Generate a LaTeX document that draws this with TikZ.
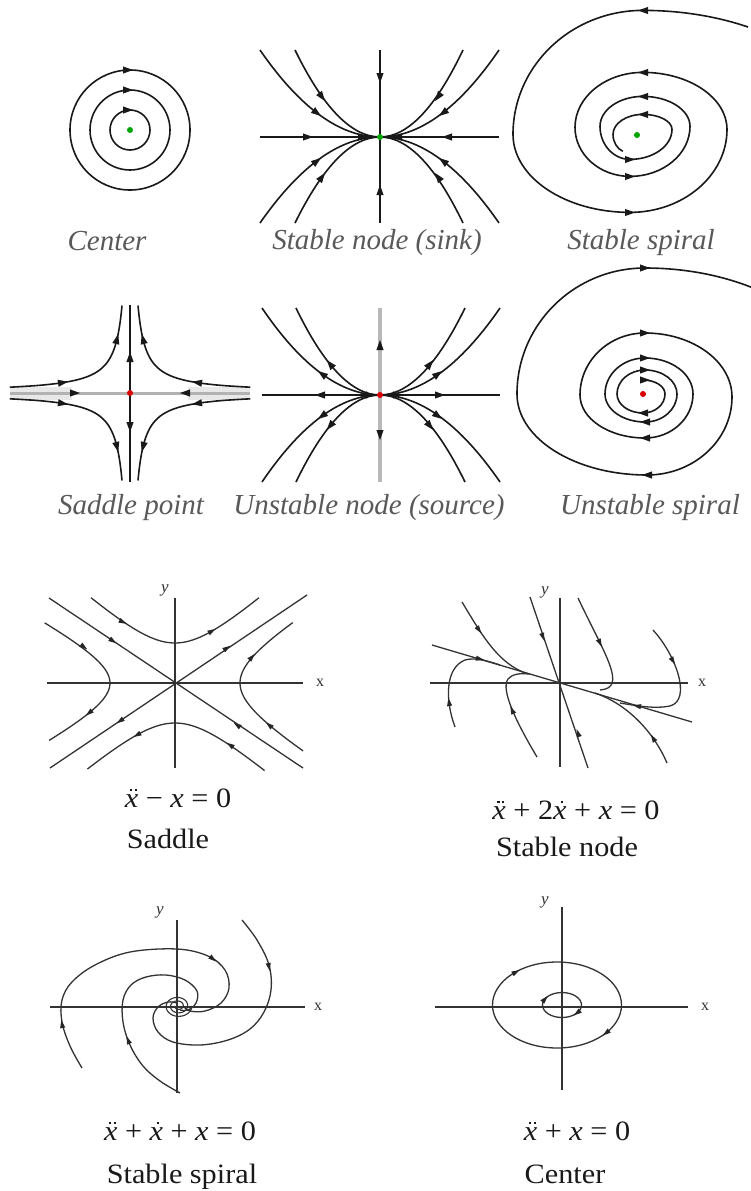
\documentclass[tikz,border=0pt]{standalone}
\usepackage{fontspec}
\setmainfont{Liberation Serif}
\newfontfamily\lowfont[FakeStretch=1.08]{Liberation Serif}
\newcommand{\ah}[3]{\fill[black!90,shift={(#1,#2)},rotate=#3] (5,0) -- (-5,3.6) -- (-5,-3.6) -- cycle;}
\newcommand{\as}[3]{\fill[black!85,shift={(#1,#2)},rotate=#3] (4,0) -- (-4,2.6) -- (-4,-2.6) -- cycle;}
\newcommand{\parab}[4]{\draw[traj] (#1,#2) .. controls ({#1+(#3)/3},#2) and ({#1+2*(#3)/3},{#2+(#4)/3}) .. ({#1+(#3)},{#2+(#4)});}
\newcommand{\xx}{\hbox{\itshape x}}
\newcommand{\ddx}{\hbox{\rlap{\kern5pt\raisebox{16pt}{\rule{2.2pt}{2.2pt}\kern2.6pt\rule{2.2pt}{2.2pt}}}\itshape x}}
\newcommand{\dx}{\hbox{\rlap{\kern7.5pt\raisebox{16pt}{\rule{2.2pt}{2.2pt}}}\itshape x}}
\tikzset{
  traj/.style={line width=1.6pt, black!90},
  lowtraj/.style={line width=1.3pt, black!80},
  toplab/.style={font=\fontsize{29}{32}\selectfont\itshape, text=black!65, anchor=base},
  botlab/.style={font=\lowfont\fontsize{28}{30}\selectfont, text=black!90, anchor=base},
  axlab/.style={font=\fontsize{16}{18}\selectfont, text=black!80},
}
\begin{document}
\begin{tikzpicture}[x=1pt,y=-1pt]
\useasboundingbox[fill=white] (0,0) rectangle (751,1191);

% ---------- Panel 1: Center ----------
\draw[traj] (130,130) circle (60) (130,130) circle (40) (130,130) circle (20);
\ah{128}{70}{0}\ah{128}{90}{0}\ah{128}{110}{0}
\fill[green!65!black] (130,130) circle (3);
\node[toplab] (l1) at (107,250) {Center};

% ---------- Panel 2: Stable node (sink) ----------
\draw[traj] (380,50) -- (380,223);
\draw[traj] (260,137) -- (499,137);
\parab{380}{137}{-120}{-87}\parab{380}{137}{-85}{-87}
\parab{380}{137}{119}{-87}\parab{380}{137}{83}{-87}
\parab{380}{137}{-120}{86}\parab{380}{137}{-85}{86}
\parab{380}{137}{119}{86}\parab{380}{137}{83}{86}
\ah{322}{97}{-54}\ah{317}{113}{-37}
\ah{438}{97}{-126}\ah{443}{113}{-143}
\ah{322}{177}{54}\ah{317}{161}{37}
\ah{438}{177}{126}\ah{443}{161}{143}
\ah{380}{78}{-90}\ah{380}{190}{90}
\ah{308}{137}{0}\ah{447}{137}{180}
\ah{363}{137}{0}\ah{397}{137}{180}
\fill[green!65!black] (380,137) circle (3);
\node[toplab] (l2) at (377,249) {Stable node (sink)};

% ---------- Panel 3: Stable spiral ----------
\draw[traj] (748,27) arc[start angle=-60,end angle=-90,x radius=210,y radius=124]
 arc[start angle=270,end angle=180,x radius=130,y radius=124]
 arc[start angle=180,end angle=90,x radius=117,y radius=78]
 arc[start angle=90,end angle=0,x radius=97,y radius=83]
 arc[start angle=360,end angle=270,x radius=84,y radius=57]
 arc[start angle=270,end angle=180,x radius=68,y radius=55]
 arc[start angle=180,end angle=90,x radius=55,y radius=49]
 arc[start angle=90,end angle=0,x radius=60,y radius=50]
 arc[start angle=360,end angle=270,x radius=47,y radius=30]
 arc[start angle=270,end angle=180,x radius=43,y radius=30]
 arc[start angle=180,end angle=90,x radius=30,y radius=33]
 arc[start angle=90,end angle=0,x radius=42,y radius=30]
 arc[start angle=360,end angle=270,x radius=29,y radius=15]
 arc[start angle=270,end angle=180,x radius=30,y radius=20]
 arc[start angle=180,end angle=110,x radius=15,y radius=18];
\ah{643}{10.5}{180}\ah{643}{72.5}{180}\ah{643}{96.5}{180}\ah{643}{114.5}{180}
\ah{630}{212.5}{0}\ah{630}{176.5}{0}\ah{630}{159.5}{0}
\fill[green!65!black] (637,135) circle (3);
\node[toplab] (l3) at (641,249) {Stable spiral};

% ---------- Panel 4: Saddle point ----------
\fill[gray!18] (10,387) rectangle (72,400);
\fill[gray!18] (188,387) rectangle (250,400);
\draw[gray!60,line width=3pt] (10,393) -- (250,393);
\draw[traj] (130,305) -- (130,482);
\draw[traj] plot[domain=2.08:4.79,samples=50,smooth] ({130-exp(\x)},{393-700*exp(-\x)});
\draw[traj] plot[domain=2.08:4.79,samples=50,smooth] ({130+exp(\x)},{393-700*exp(-\x)});
\draw[traj] plot[domain=2.08:4.79,samples=50,smooth] ({130-exp(\x)},{393+700*exp(-\x)});
\draw[traj] plot[domain=2.08:4.79,samples=50,smooth] ({130+exp(\x)},{393+700*exp(-\x)});
\ah{63}{382.5}{9}\ah{117}{339}{76}
\ah{197}{382.5}{171}\ah{143}{339}{104}
\ah{63}{403.5}{-9}\ah{117}{447}{-76}
\ah{197}{403.5}{-171}\ah{143}{447}{-104}
\ah{75}{393}{0}\ah{185}{393}{180}
\ah{130}{357}{90}\ah{130}{427}{-90}
\fill[red!85!black] (130,393) circle (3);
\node[toplab] (l4) at (131,514) {Saddle point};

% ---------- Panel 5: Unstable node (source) ----------
\draw[gray!55,line width=4.5pt] (380,308) -- (380,482);
\draw[traj] (262,395) -- (500,395);
\parab{380}{395}{-118}{-87}\parab{380}{395}{-84}{-87}
\parab{380}{395}{120}{-87}\parab{380}{395}{85}{-87}
\parab{380}{395}{-118}{87}\parab{380}{395}{-84}{87}
\parab{380}{395}{120}{87}\parab{380}{395}{85}{87}
\ah{330}{364}{129}\ah{322}{374}{144}
\ah{430}{364}{51}\ah{438}{374}{36}
\ah{330}{426}{-129}\ah{322}{416}{-144}
\ah{430}{426}{-51}\ah{438}{416}{-36}
\ah{320}{395}{180}\ah{440}{395}{0}
\ah{380}{345}{90}\ah{380}{435}{-90}
\ah{362}{395}{180}\ah{398}{395}{0}
\fill[red!85!black] (380,395) circle (3);
\node[toplab] (l5) at (369,514) {Unstable node (source)};

% ---------- Panel 6: Unstable spiral ----------
\draw[traj] (643,380)
 arc[start angle=270,end angle=360,x radius=22,y radius=14]
 arc[start angle=0,end angle=90,x radius=22,y radius=19]
 arc[start angle=90,end angle=180,x radius=26,y radius=19]
 arc[start angle=180,end angle=270,x radius=28,y radius=24]
 arc[start angle=270,end angle=360,x radius=32,y radius=24]
 arc[start angle=0,end angle=90,x radius=32,y radius=28]
 arc[start angle=90,end angle=180,x radius=40,y radius=28]
 arc[start angle=180,end angle=270,x radius=40,y radius=36]
 arc[start angle=270,end angle=360,x radius=48,y radius=36]
 arc[start angle=0,end angle=90,x radius=48,y radius=44]
 arc[start angle=90,end angle=180,x radius=65,y radius=43]
 arc[start angle=180,end angle=270,x radius=65,y radius=62]
 arc[start angle=270,end angle=360,x radius=87,y radius=64]
 arc[start angle=0,end angle=90,x radius=85,y radius=78]
 arc[start angle=90,end angle=180,x radius=130,y radius=81]
 arc[start angle=180,end angle=270,x radius=128,y radius=126]
 arc[start angle=270,end angle=302,x radius=200,y radius=126];
\ah{645}{380}{0}\ah{645}{370}{0}\ah{645}{358}{0}\ah{645}{333}{0}\ah{645}{268}{0}
\ah{643}{413}{180}\ah{645}{422}{180}\ah{645}{438}{180}\ah{647}{475}{180}
\fill[red!85!black] (643,394) circle (3);
\node[toplab] (l6) at (650,514) {Unstable spiral};

% ---------- Panel 7: Saddle ----------
\draw[lowtraj] (47,683) -- (303,683);
\draw[lowtraj] (175,598) -- (175,768);
\draw[lowtraj] (49,598) -- (303,768);
\draw[lowtraj] (50,768) -- (307,595);
\draw[lowtraj] plot[domain=-1.39:1.39,samples=40,smooth] ({175+44.6*sinh(\x)},{683-40*cosh(\x)});
\draw[lowtraj] plot[domain=-1.4:1.42,samples=40,smooth] ({175+46*sinh(\x)},{683+40*cosh(\x)});
\draw[lowtraj] plot[domain=-1.32:1.28,samples=40,smooth] ({175-65*cosh(\x)},{683+34.6*sinh(\x)});
\draw[lowtraj] plot[domain=-1.2:1.3,samples=40,smooth] ({175+65*cosh(\x)},{683+40*sinh(\x)});
\as{113}{641}{-33.8}\as{237}{725}{146.2}
\as{227}{648}{33.8}\as{120}{721}{-146.2}
\as{123}{622}{-26}\as{212}{631}{30}
\as{137}{735}{-151}\as{230}{745}{146.5}
\as{84}{647}{-36}\as{89}{713}{-141}
\as{252}{657}{48.6}\as{269}{725}{140}
\node[axlab] (x7) at (320,683) {x};
\node[axlab,font=\fontsize{17}{18}\selectfont\itshape] (y7) at (165,590) {y};
\node[botlab] (e7) at (178,807) {\ddx{} − \xx{} = 0};
\node[botlab] (n7) at (168,848) {Saddle};

% ---------- Panel 8: Stable node ----------
\draw[lowtraj] (430,683) -- (688,683);
\draw[lowtraj] (560,598) -- (560,767);
\draw[lowtraj] (432,645) -- (692,722);
\draw[lowtraj] (530,597) -- (588,768);
\draw[lowtraj] (462,602) .. controls (482,635) and (498,664) .. (528,674);
\draw[lowtraj] (578,598) .. controls (605,655) and (628,688) .. (600,690);
\draw[lowtraj] (653,630) .. controls (676,655) and (692,700) .. (670,706) .. controls (655,709) and (638,706) .. (620,703);
\draw[lowtraj] (667,763) .. controls (655,735) and (630,705) .. (595,693);
\draw[lowtraj] (537,757) .. controls (518,725) and (500,690) .. (508,679) .. controls (512,674) and (520,673) .. (530,674);
\draw[lowtraj] (455,727) .. controls (445,700) and (445,668) .. (465,660) .. controls (475,657) and (488,661) .. (500,665);
\as{543}{637}{-71.3}\as{578}{733}{108.7}
\as{479}{630}{-56}\as{600}{643}{-64.6}
\as{673}{661}{-60}\as{637}{706}{170}
\as{653}{738}{121}\as{512}{710}{115}
\as{449}{702}{99}\as{480}{659}{-12}
\node[axlab] (x8) at (702,683) {x};
\node[axlab,font=\fontsize{17}{18}\selectfont\itshape] (y8) at (545,592) {y};
\node[botlab] (e8) at (576,819) {\ddx{} + 2\dx{} + \xx{} = 0};
\node[botlab] (n8) at (567,856) {Stable node};

% ---------- Panel 9: Stable spiral ----------
\draw[lowtraj] (50,1007) -- (305,1007);
\draw[lowtraj] (177,920) -- (177,1093);
\draw[lowtraj] plot[smooth,tension=0.6] coordinates {(82,1068) (70,1046) (62,1022) (62,1000) (72,982) (95,965) (130,952) (177,949) (208,956) (225,970) (229,988) (221,1003) (205,1011) (190,1011) (183,1006)};
\draw[lowtraj] plot[smooth,tension=0.6] coordinates {(242,920) (257,940) (269,965) (271,990) (264,1012) (250,1029) (228,1040) (200,1045) (173,1042) (158,1032) (153,1018) (158,1007) (168,1002) (177,1003)};
\draw[lowtraj] plot[smooth,tension=0.6] coordinates {(180,1093) (160,1081) (143,1066) (130,1045) (123,1022) (123,1000) (131,985) (146,977) (166,975) (185,980) (197,991) (196,1003) (188,1010) (180,1010)};
\draw[lowtraj,line width=1.1pt] plot[domain=0:900,samples=150,smooth] ({178+(3+11*(1-\x/900))*cos(\x)},{1006+0.8*(3+11*(1-\x/900))*sin(\x)});
\as{62}{1024}{100}\as{213}{959}{-39}
\as{269}{967}{-78}\as{128}{1040}{112}
\node[axlab] (x9) at (318,1007) {x};
\node[axlab,font=\fontsize{17}{18}\selectfont\itshape] (y9) at (160,912) {y};
\node[botlab] (e9) at (180,1140) {\ddx{} + \dx{} + \xx{} = 0};
\node[botlab] (n9) at (182,1183) {Stable spiral};

% ---------- Panel 10: Center ----------
\draw[lowtraj] (435,1007) -- (688,1007);
\draw[lowtraj] (562,907) -- (562,1090);
\draw[lowtraj] (557,1005) ellipse [x radius=64.5,y radius=43];
\draw[lowtraj] (562,1005) ellipse [x radius=19.5,y radius=12.5];
\as{516}{972}{28}\as{606}{1033}{218}
\as{545}{999}{48}\as{577}{1013}{217}
\node[axlab] (x10) at (705,1007) {x};
\node[axlab,font=\fontsize{17}{18}\selectfont\itshape] (y10) at (545,902) {y};
\node[botlab] (e10) at (577,1140) {\ddx{} + \xx{} = 0};
\node[botlab] (n10) at (565,1183) {Center};
\end{tikzpicture}
\end{document}
